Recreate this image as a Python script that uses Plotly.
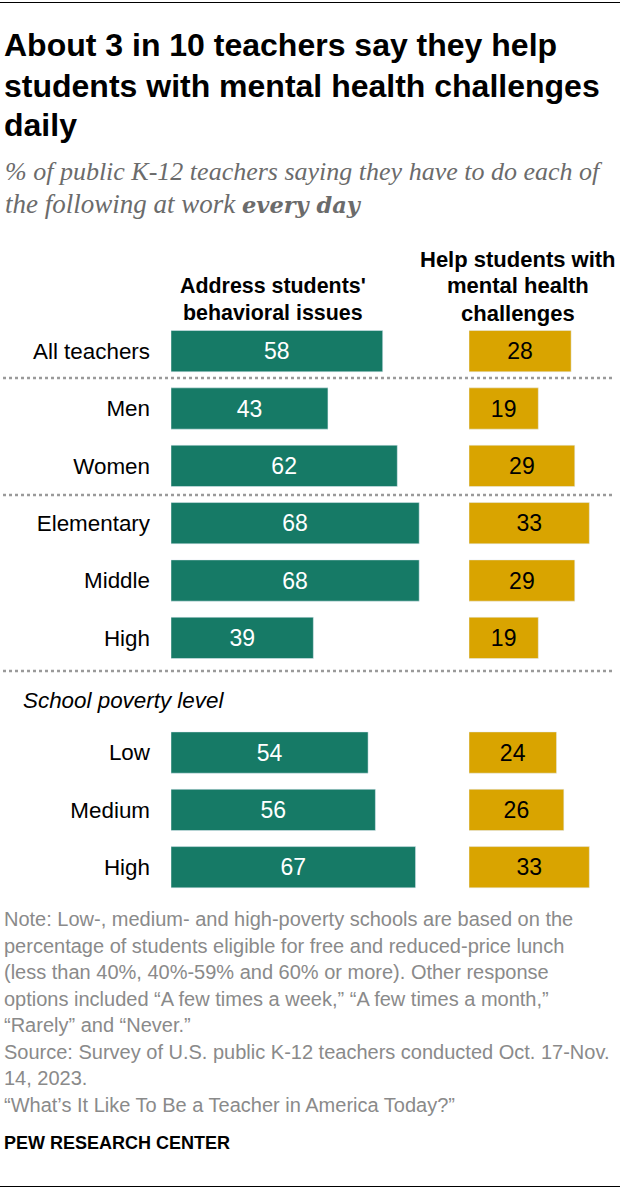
"""
plot.py

Pew teachers chart: daily behavior / mental health tasks, two bar panels
sharing one row axis.
"""

import plotly.graph_objects as go

WIDTH = 620
HEIGHT = 1192

GREEN = "#167a66"
GOLD = "#d9a400"
GREY = "#8a8a8a"
SUB_GREY = "#6b6b6b"
SANS = "Liberation Sans"
SERIF = "Liberation Serif"

# Rows; row 6 stays empty for the "School poverty level" label
row_labels = ["All teachers", "Men", "Women", "Elementary", "Middle", "High",
              "Low", "Medium", "High"]
row_pos = [0, 1, 2, 3, 4, 5, 7, 8, 9]

behavior = [58, 43, 62, 68, 68, 39, 54, 56, 67]
mental_health = [28, 19, 29, 33, 29, 19, 24, 26, 33]

title_lines = ["About 3 in 10 teachers say they help",
               "students with mental health challenges",
               "daily"]
subtitle_lines = ["% of public K-12 teachers saying they have to do each of",
                  "the following at work "
                  "<span style='font-family:DejaVu Serif;font-size:22.5px'><b>every day</b></span>"]
note_lines = ["Note: Low-, medium- and high-poverty schools are based on the",
              "percentage of students eligible for free and reduced-price lunch",
              "(less than 40%, 40%-59% and 60% or more). Other response",
              "options included “A few times a week,” “A few times a month,”",
              "“Rarely” and “Never.”",
              "Source: Survey of U.S. public K-12 teachers conducted Oct. 17-Nov.",
              "14, 2023.",
              "“What’s It Like To Be a Teacher in America Today?”"]


def px_x(x):
    return x / WIDTH


def px_y(y):
    return 1 - y / HEIGHT


def add_text(fig, x, y, text, size, color="black", family=SANS, anchor="left"):
    fig.add_annotation(
        x=px_x(x), y=px_y(y), xref="paper", yref="paper",
        xanchor=anchor, yanchor="middle", showarrow=False,
        text=text, font=dict(size=size, color=color, family=family),
    )


fig = go.Figure()

fig.add_trace(go.Bar(
    x=behavior, y=row_pos, orientation="h", width=0.72,
    marker=dict(color=GREEN), text=behavior, textposition="inside",
    insidetextanchor="middle", textangle=0,
    textfont=dict(size=23, color="white", family=SANS),
    xaxis="x", yaxis="y",
))
fig.add_trace(go.Bar(
    x=mental_health, y=row_pos, orientation="h", width=0.72,
    marker=dict(color=GOLD), text=mental_health, textposition="inside",
    insidetextanchor="middle", textangle=0,
    textfont=dict(size=23, color="black", family=SANS),
    xaxis="x2", yaxis="y",
))

fig.update_layout(
    width=WIDTH,
    height=HEIGHT,
    margin=dict(l=0, r=0, t=0, b=0),
    paper_bgcolor="white",
    plot_bgcolor="white",
    showlegend=False,
    xaxis=dict(domain=[px_x(171), px_x(440)], range=[0, 73.7], visible=False),
    xaxis2=dict(domain=[px_x(469), 1], range=[0, 41.4], visible=False, anchor="y"),
    yaxis=dict(
        domain=[px_y(895.9), px_y(322.5)], range=[9.5, -0.5],
        tickvals=row_pos, ticktext=row_labels, showgrid=False, zeroline=False,
        showline=False, ticks="", ticklabelstandoff=20,
        tickfont=dict(size=22.4, color="black", family=SANS),
    ),
)

# Dotted separators and the black rules at top and bottom
for sep_y in [378, 495, 671]:
    fig.add_shape(type="line", xref="paper", yref="paper",
                  x0=px_x(3), x1=px_x(615), y0=px_y(sep_y), y1=px_y(sep_y),
                  line=dict(color="#9a9a9a", width=2.5, dash="dot"))
for rule_y in [2.5, 1186.5]:
    fig.add_shape(type="line", xref="paper", yref="paper",
                  x0=0, x1=1, y0=px_y(rule_y), y1=px_y(rule_y),
                  line=dict(color="black", width=1))

for i, line in enumerate(title_lines):
    add_text(fig, 2, 45.5 + i * 40, f"<b>{line}</b>", 32)
for i, line in enumerate(subtitle_lines):
    add_text(fig, 3, 172 + i * 32, f"<i>{line}</i>", 26 + i, SUB_GREY, SERIF)

add_text(fig, 273, 286, "<b>Address students'</b>", 21.4, anchor="center")
add_text(fig, 273, 313, "<b>behavioral issues</b>", 21.4, anchor="center")
add_text(fig, 517.5, 259, "<b>Help students with</b>", 22, anchor="center")
add_text(fig, 517.5, 286, "<b>mental health</b>", 22, anchor="center")
add_text(fig, 517.5, 313, "<b>challenges</b>", 22, anchor="center")

add_text(fig, 21, 700, "<i>School poverty level</i>", 22.4)

for i, line in enumerate(note_lines):
    add_text(fig, 2, 919 + i * 26.5, line, 20, GREY)
add_text(fig, 2, 1143, "<b>PEW RESEARCH CENTER</b>", 18)

fig.write_html("out.html", config={"displayModeBar": False},
               post_script="document.body.style.margin='0';")
